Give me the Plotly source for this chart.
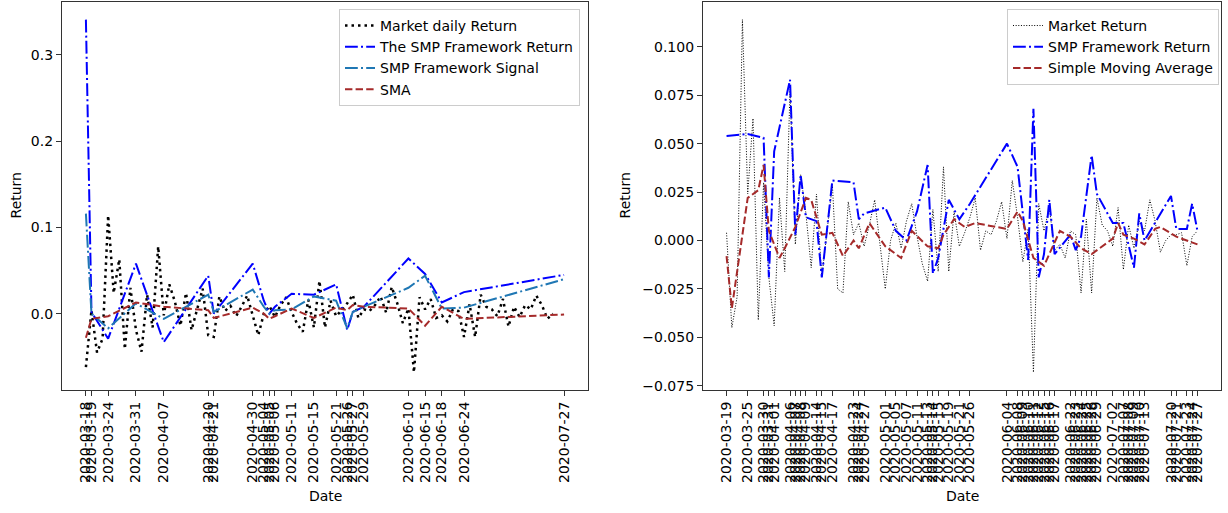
import plotly.graph_objects as go

YEAR = "2020-"

# ---------------- Market daily returns (same series on both panels) ----------------
market_daily = [
    ("03-18", -0.062), ("03-19", 0.004), ("03-20", -0.045), ("03-23", -0.029), ("03-24", 0.114),
    ("03-25", 0.024), ("03-26", 0.063), ("03-27", -0.041), ("03-30", 0.030), ("03-31", -0.019),
    ("04-01", -0.044), ("04-02", 0.022), ("04-03", -0.016), ("04-06", 0.078), ("04-07", -0.002),
    ("04-08", 0.034), ("04-09", 0.014), ("04-13", -0.014), ("04-14", 0.024), ("04-15", -0.019),
    ("04-16", 0.005), ("04-17", 0.029), ("04-20", -0.025), ("04-21", -0.027), ("04-22", 0.020),
    ("04-23", 0.003), ("04-24", 0.009), ("04-27", -0.003), ("04-28", 0.008), ("04-29", 0.021),
    ("04-30", -0.002), ("05-01", -0.025), ("05-04", 0.000), ("05-05", 0.009), ("05-06", -0.004),
    ("05-07", 0.010), ("05-08", 0.019), ("05-11", 0.002), ("05-12", -0.012), ("05-13", -0.021),
    ("05-14", 0.016), ("05-15", -0.016), ("05-18", 0.038), ("05-19", -0.016), ("05-20", 0.015),
    ("05-21", -0.003), ("05-22", 0.004), ("05-26", 0.012), ("05-27", 0.022), ("05-28", -0.005),
    ("05-29", 0.005), ("06-01", 0.003), ("06-02", 0.010), ("06-03", 0.020), ("06-04", 0.001),
    ("06-05", 0.031), ("06-08", 0.012), ("06-09", -0.011), ("06-10", 0.006), ("06-11", -0.068),
    ("06-12", 0.019), ("06-15", 0.005), ("06-16", 0.017), ("06-17", -0.005), ("06-18", -0.002),
    ("06-19", -0.009), ("06-22", 0.005), ("06-23", 0.003), ("06-24", -0.027), ("06-25", 0.011),
    ("06-26", -0.027), ("06-29", 0.022), ("06-30", 0.008), ("07-01", 0.005), ("07-02", -0.003),
    ("07-06", 0.017), ("07-07", -0.015), ("07-08", 0.008), ("07-09", -0.004), ("07-10", 0.010),
    ("07-13", 0.005), ("07-14", 0.021), ("07-15", 0.010), ("07-16", -0.006), ("07-17", 0.000),
    ("07-20", 0.003), ("07-21", 0.003), ("07-22", 0.004), ("07-23", -0.013), ("07-24", 0.002),
    ("07-27", 0.005),
]

# Left panel: rows of its table (trading days, x = row order), market shown up to 07-17
left_rows_window = ("03-18", "07-20")
left_extra_rows = ["07-27"]
left_market_window = ("03-18", "07-17")

left_signal_dates = ["03-18", "03-19", "03-24", "03-31", "04-07", "04-20", "04-21", "04-30",
                     "05-04", "05-05", "05-06", "05-11", "05-15", "05-21", "05-26", "05-27",
                     "05-29", "06-10", "06-15", "06-18", "06-24", "07-27"]
left_smp_return = [0.341, 0.002, -0.029, 0.058, -0.033, 0.044, 0.000, 0.058,
                   0.015, 0.000, 0.008, 0.023, 0.022, 0.034, -0.019, 0.002,
                   0.008, 0.064, 0.046, 0.013, 0.025, 0.045]
left_smp_signal = [0.116, 0.000, -0.017, 0.012, -0.006, 0.022, 0.002, 0.028,
                   0.008, 0.000, 0.004, 0.005, 0.020, 0.015, -0.017, 0.002,
                   0.008, 0.030, 0.044, 0.006, 0.007, 0.040]
left_sma = [-0.028, -0.006, -0.003, 0.013, 0.008, 0.004, -0.005, 0.007,
            0.000, -0.006, -0.003, 0.006, -0.005, 0.007, 0.004, 0.010,
            0.008, 0.006, -0.014, 0.008, -0.006, -0.001]

# Right panel
right_rows_window = ("03-19", "07-27")
right_smp = [
    ("03-19", 0.054), ("03-25", 0.055), ("03-30", 0.053), ("03-31", -0.019), ("04-01", 0.046),
    ("04-06", 0.083), ("04-07", 0.003), ("04-08", 0.034), ("04-09", 0.012), ("04-14", 0.010),
    ("04-15", -0.019), ("04-17", 0.031), ("04-23", 0.030), ("04-24", 0.011), ("04-27", 0.014),
    ("05-01", 0.017), ("05-05", 0.005), ("05-07", 0.000), ("05-11", 0.015), ("05-13", 0.039),
    ("05-14", -0.017), ("05-15", -0.009), ("05-19", 0.021), ("05-21", 0.011), ("05-26", 0.019),
    ("06-04", 0.050), ("06-08", 0.038), ("06-09", 0.014), ("06-10", -0.010), ("06-11", 0.068),
    ("06-12", -0.019), ("06-15", -0.007), ("06-16", 0.021), ("06-17", -0.007), ("06-22", 0.003),
    ("06-23", -0.005), ("06-24", 0.002), ("06-25", 0.023), ("06-26", 0.044), ("06-29", 0.024),
    ("07-02", 0.009), ("07-07", 0.009), ("07-08", -0.002), ("07-09", -0.014), ("07-10", 0.014),
    ("07-13", 0.000), ("07-20", 0.023), ("07-21", 0.006), ("07-23", 0.006), ("07-24", 0.019),
    ("07-27", 0.005),
]
right_sma = [
    ("03-19", -0.008), ("03-20", -0.035), ("03-25", 0.022), ("03-27", 0.026), ("03-30", 0.039),
    ("03-31", 0.005), ("04-01", -0.002), ("04-02", -0.009), ("04-03", -0.004), ("04-07", 0.007),
    ("04-09", 0.022), ("04-13", 0.021), ("04-15", 0.003), ("04-17", 0.004), ("04-21", -0.008),
    ("04-23", 0.000), ("04-24", -0.004), ("04-28", 0.009), ("05-01", -0.003), ("05-06", -0.009),
    ("05-08", 0.005), ("05-13", -0.003), ("05-15", -0.004), ("05-18", 0.003), ("05-20", 0.011),
    ("05-22", 0.007), ("05-27", 0.009), ("06-02", 0.007), ("06-04", 0.006), ("06-08", 0.015),
    ("06-09", 0.010), ("06-11", -0.009), ("06-15", -0.013), ("06-16", -0.007), ("06-18", 0.005),
    ("06-22", 0.002), ("06-24", -0.004), ("06-26", -0.007), ("06-30", -0.003), ("07-02", 0.001),
    ("07-06", 0.009), ("07-07", 0.003), ("07-09", 0.001), ("07-13", -0.002), ("07-15", 0.006),
    ("07-16", 0.007), ("07-21", 0.002), ("07-23", 0.000), ("07-27", -0.002),
]

# ---------------- helpers ----------------
def full(m):
    return YEAR + m

def in_win(m, win):
    return win[0] <= m <= win[1]

market_dates = [p[0] for p in market_daily]

left_rows = [full(m) for m in market_dates if in_win(m, left_rows_window)] + [full(m) for m in left_extra_rows]
right_rows = [full(m) for m in market_dates if in_win(m, right_rows_window)]

lm_x = [full(m) for m, v in market_daily if in_win(m, left_market_window)]
lm_y = [v for m, v in market_daily if in_win(m, left_market_window)]
rm_x = [full(m) for m, v in market_daily if in_win(m, right_rows_window)]
rm_y = [v for m, v in market_daily if in_win(m, right_rows_window)]
ls_x = [full(m) for m in left_signal_dates]
rs_x = [full(m) for m, v in right_smp]
rs_y = [v for m, v in right_smp]
ra_x = [full(m) for m, v in right_sma]
ra_y = [v for m, v in right_sma]

def cat_range(rows):
    n = len(rows) - 1
    return [-0.05 * n, n * 1.05]

def yrange_of(*ys):
    lo = min(min(y) for y in ys)
    hi = max(max(y) for y in ys)
    pad = (hi - lo) * 0.05
    return [lo - pad, hi + pad]

FONT = "DejaVu Sans"
BLUE = "#0000ff"
SIG = "#1f77b4"
SMA_C = "#a52a2a"

DOT_L = "2.5px,4px"
DASHDOT = "12.8px,3.2px,2px,3.2px"
DASH = "7.4px,3.2px"
DOT_R = "1px,1.65px"

fig = go.Figure()

fig.add_trace(go.Scatter(x=lm_x, y=lm_y, mode="lines", name="Market daily Return",
                         line=dict(color="black", width=2.5, dash=DOT_L),
                         xaxis="x", yaxis="y", legend="legend"))
fig.add_trace(go.Scatter(x=ls_x, y=left_smp_return, mode="lines", name="The SMP Framework Return",
                         line=dict(color=BLUE, width=2, dash=DASHDOT),
                         xaxis="x", yaxis="y", legend="legend"))
fig.add_trace(go.Scatter(x=ls_x, y=left_smp_signal, mode="lines", name="SMP Framework Signal",
                         line=dict(color=SIG, width=2, dash=DASHDOT),
                         xaxis="x", yaxis="y", legend="legend"))
fig.add_trace(go.Scatter(x=ls_x, y=left_sma, mode="lines", name="SMA",
                         line=dict(color=SMA_C, width=2, dash=DASH),
                         xaxis="x", yaxis="y", legend="legend"))

fig.add_trace(go.Scatter(x=rm_x, y=rm_y, mode="lines", name="Market Return",
                         line=dict(color="black", width=1, dash=DOT_R),
                         xaxis="x2", yaxis="y2", legend="legend2"))
fig.add_trace(go.Scatter(x=rs_x, y=rs_y, mode="lines", name="SMP Framework Return",
                         line=dict(color=BLUE, width=2, dash=DASHDOT),
                         xaxis="x2", yaxis="y2", legend="legend2"))
fig.add_trace(go.Scatter(x=ra_x, y=ra_y, mode="lines", name="Simple Moving Average",
                         line=dict(color=SMA_C, width=2, dash=DASH),
                         xaxis="x2", yaxis="y2", legend="legend2"))

W, H = 1228, 513
def px_x(p):
    return p / W
def px_y(p):
    return (H - p) / H

axis_common = dict(showline=True, linecolor="#333333", linewidth=1.2, mirror=True,
                   ticks="outside", ticklen=5, tickwidth=1, tickcolor="#333333",
                   showgrid=False, zeroline=False,
                   tickfont=dict(family=FONT, size=14, color="black"))

legend_common = dict(xanchor="right", yanchor="top",
                     bgcolor="rgba(255,255,255,0.85)", bordercolor="#cccccc", borderwidth=1,
                     font=dict(family=FONT, size=14, color="black"), itemwidth=30,
                     tracegroupgap=0)

fig.update_layout(
    width=W, height=H,
    margin=dict(l=0, r=0, t=0, b=0),
    paper_bgcolor="white", plot_bgcolor="white",
    font=dict(family=FONT, size=14, color="black"),
    xaxis=dict(domain=[px_x(62), px_x(588)], anchor="y", type="category",
               categoryorder="array", categoryarray=left_rows,
               range=cat_range(left_rows),
               tickmode="array", tickvals=ls_x, ticktext=ls_x, tickangle=-90,
               **axis_common),
    yaxis=dict(domain=[px_y(393), px_y(2)], anchor="x",
               range=yrange_of(lm_y, left_smp_return, left_smp_signal, left_sma),
               tickmode="array", tickvals=[0.0, 0.1, 0.2, 0.3], tickformat=".1f",
               **axis_common),
    xaxis2=dict(domain=[px_x(703), px_x(1221)], anchor="y2", type="category",
                categoryorder="array", categoryarray=right_rows,
                range=cat_range(right_rows),
                tickmode="array", tickvals=rs_x, ticktext=rs_x, tickangle=-90,
                **axis_common),
    yaxis2=dict(domain=[px_y(393), px_y(2)], anchor="x2",
                range=yrange_of(rm_y, rs_y, ra_y),
                tickmode="array",
                tickvals=[-0.075, -0.05, -0.025, 0.0, 0.025, 0.05, 0.075, 0.1],
                tickformat=".3f",
                **axis_common),
    legend=dict(x=px_x(580), y=px_y(9), **legend_common),
    legend2=dict(x=px_x(1219), y=px_y(9), **legend_common),
    showlegend=True,
)

annots = [
    dict(text="Return", x=px_x(16), y=px_y(197), textangle=-90),
    dict(text="Return", x=px_x(625), y=px_y(197), textangle=-90),
    dict(text="Date", x=px_x(325), y=px_y(500), textangle=0),
    dict(text="Date", x=px_x(962), y=px_y(500), textangle=0),
]
for a in annots:
    fig.add_annotation(xref="paper", yref="paper", showarrow=False,
                       xanchor="center", yanchor="middle",
                       font=dict(family=FONT, size=14, color="black"), **a)

fig.write_html("out.html", config={"displayModeBar": False},
               post_script="document.body.style.margin='0';document.body.style.padding='0';")
